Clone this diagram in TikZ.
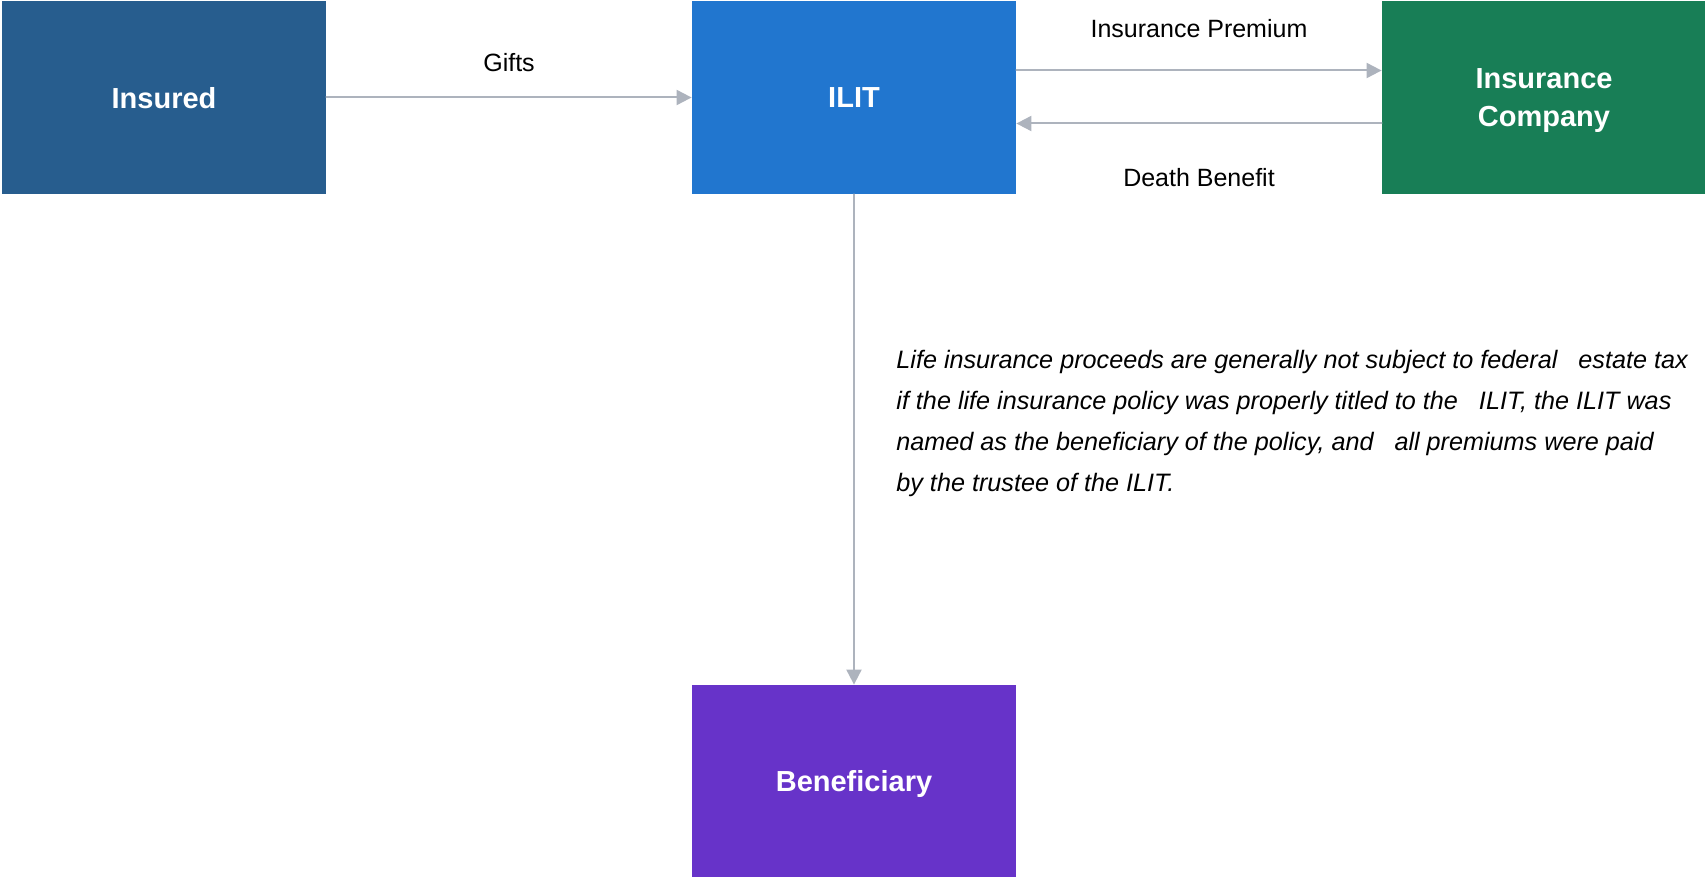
\documentclass[tikz,border=0pt]{standalone}
\usepackage{fontspec}
\setmainfont{Liberation Sans}
\usetikzlibrary{arrows.meta}
\definecolor{insuredblue}{HTML}{275D8E}
\definecolor{ilitblue}{HTML}{2176CF}
\definecolor{companygreen}{HTML}{187E56}
\definecolor{benefpurple}{HTML}{6733C9}
\definecolor{flowgray}{HTML}{ADB3BD}

\begin{document}
\begin{tikzpicture}[line cap=round,line join=round,>={Triangle[length=7.5pt,width=7.5pt]},x=0.5pt,y=-0.5pt,
  party/.style={rectangle,inner sep=0pt,minimum width=162pt,minimum height=96.5pt,text=white,
    text depth=0pt,font=\fontsize{14.5}{19}\selectfont\bfseries,align=center},
  flow/.style={draw=flowgray,line width=1pt,->},
  flowlabel/.style={font=\fontsize{12.5}{15}\selectfont,text=black}]

\useasboundingbox (0,0) rectangle (1705,877);

\node[party,fill=insuredblue] (insured) at (164,97.5) {Insured};
\node[party,fill=ilitblue] (ilit) at (854,97.5) {ILIT};
\node[party,fill=companygreen] (company) at (1544,97.5) {Insurance\\Company};
\node[party,fill=benefpurple,minimum height=96pt] (beneficiary) at (854,781) {Beneficiary};

\draw[flow] (insured) -- (ilit) node[flowlabel,midway,yshift=17.5pt] {Gifts};
\draw[flow] ([yshift=13.5pt]ilit.east) -- ([yshift=13.5pt]company.west)
  node[flowlabel,midway,yshift=21pt] {Insurance Premium};
\draw[flow] ([yshift=-13pt]company.west) -- ([yshift=-13pt]ilit.east)
  node[flowlabel,midway,yshift=-27.25pt] {Death Benefit};
\draw[flow] (ilit) -- (beneficiary);

\node[anchor=north west,inner sep=0pt,align=left,font=\fontsize{12.6}{20.5}\selectfont\itshape] (note) at (896,349.5)
  {Life insurance proceeds are generally not subject to federal\ \ \ estate tax\\
   if the life insurance policy was properly titled to the\ \ \ ILIT, the ILIT was\\
   named as the beneficiary of the policy, and\ \ \ all premiums were paid\\
   by the trustee of the ILIT.};
\end{tikzpicture}
\end{document}
